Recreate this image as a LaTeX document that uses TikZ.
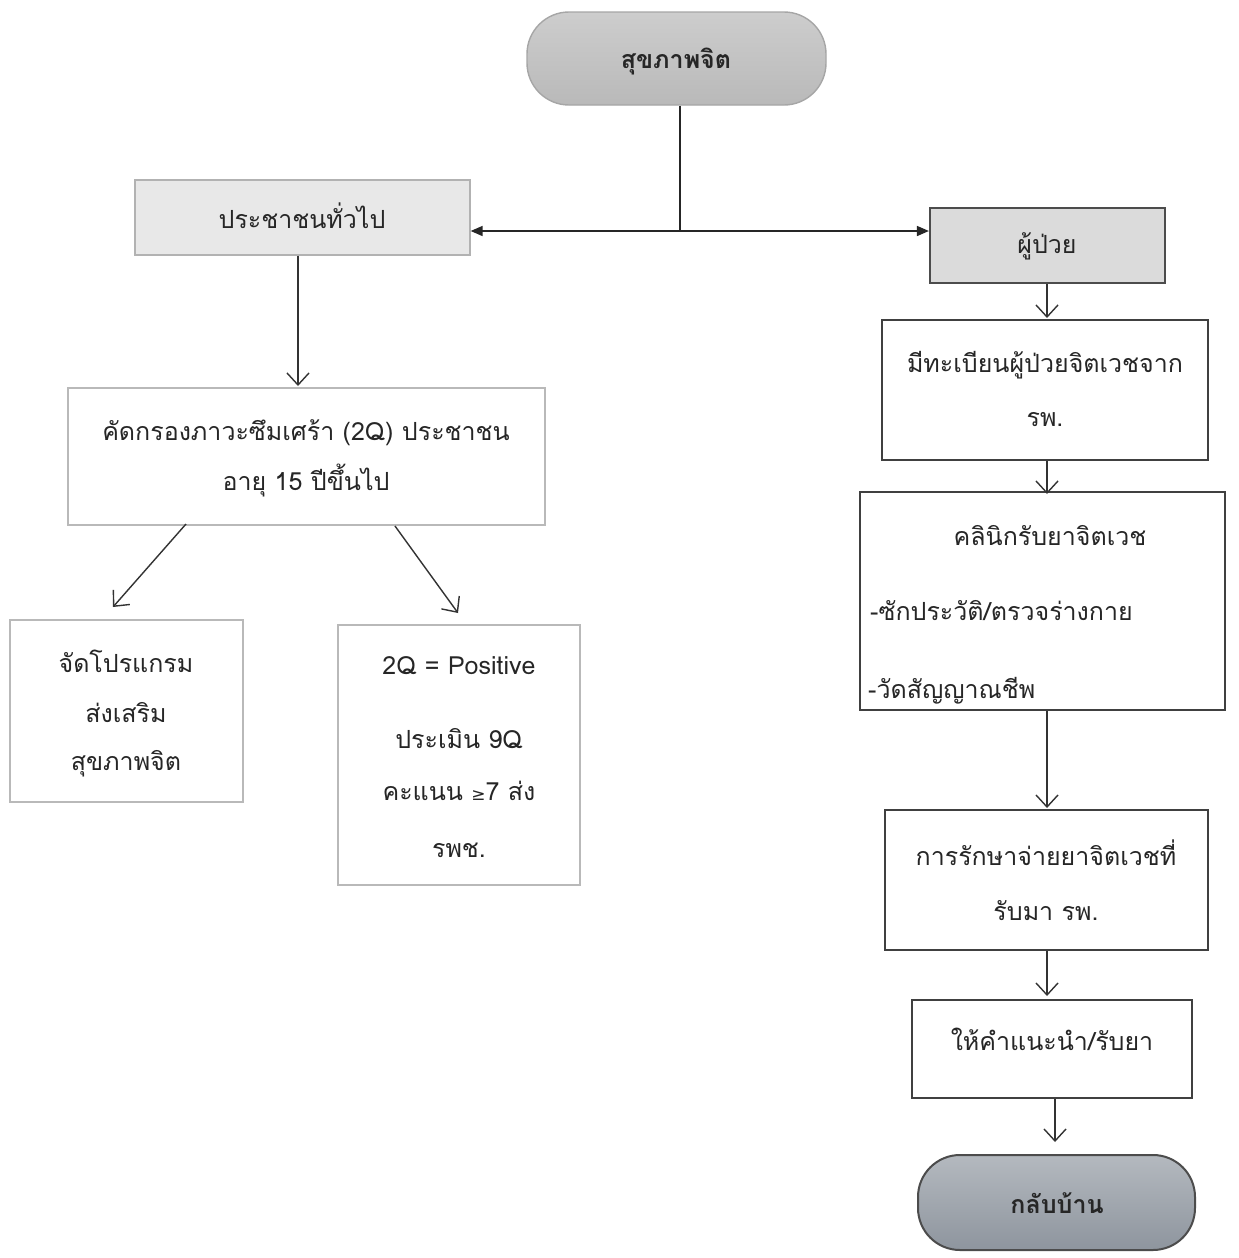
\documentclass[tikz,border=0pt]{standalone}
\usepackage{fontspec}
\newfontfamily\thaifont[Script=Thai]{Loma}
\newfontfamily\symfont{DejaVu Sans}
\usetikzlibrary{arrows.meta}
\definecolor{homeA}{HTML}{B4B9BF}
\definecolor{homeB}{HTML}{8E959E}
\definecolor{topA}{HTML}{CDCDCD}
\definecolor{topB}{HTML}{B9B9B9}
\begin{document}
\begin{tikzpicture}[x=1pt,y=-1pt,
  txt/.style={font=\thaifont\fontsize{25}{30}\selectfont, text=black!85, inner sep=0pt, anchor=base},
  ltxt/.style={txt, anchor=base west},
  btxt/.style={txt, font=\thaifont\bfseries\fontsize{25}{30}\selectfont},
  lbox/.style={draw=gray!55, line width=1.3pt, fill=white, rectangle, inner sep=0pt},
  dbox/.style={draw=black!75, line width=2.2pt, fill=white, rectangle, inner sep=0pt},
  gbox/.style={draw=gray!60, line width=1.3pt, fill=gray!18, rectangle, inner sep=0pt},
  gdbox/.style={draw=black!70, line width=2.2pt, fill=gray!28, rectangle, inner sep=0pt},
  term/.style={rectangle, rounded corners=42pt, inner sep=0pt},
  arr/.style={-{Straight Barb[length=12pt,width=22pt,line width=1.4pt]}, line width=1.4pt, draw=black!80},
  farr/.style={-{Triangle[length=12pt,width=10pt]}, line width=1.6pt, draw=black!85},
  ln/.style={line width=1.5pt, draw=black!85}]
\useasboundingbox (0,0) rectangle (1239,1258);
\fill[white] (0,0) rectangle (1239,1258);

% boxes
\node[term, draw=gray!70, line width=1.4pt, top color=topA, bottom color=topB, minimum width=299pt, minimum height=93pt] (top) at (676.5,58.5) {};
\node[gbox, minimum width=335pt, minimum height=75pt] (pc) at (302.5,217.5) {};
\node[lbox, minimum width=477pt, minimum height=137pt] (screen) at (306.5,456.5) {};
\node[lbox, minimum width=233pt, minimum height=182pt] (prog) at (126.5,711) {};
\node[lbox, minimum width=242pt, minimum height=260pt] (pos) at (459,755) {};
\node[gdbox, minimum width=235pt, minimum height=75pt] (pat) at (1047.5,245.5) {};
\node[dbox, minimum width=326pt, minimum height=140pt] (reg) at (1045,390) {};
\node[dbox, minimum width=365pt, minimum height=218pt] (clinic) at (1042.5,601) {};
\node[dbox, minimum width=323pt, minimum height=140pt] (treat) at (1046.5,880) {};
\node[dbox, minimum width=280pt, minimum height=98pt] (advice) at (1052,1049) {};
\node[term, draw=black!70, line width=2pt, top color=homeA, bottom color=homeB, minimum width=277pt, minimum height=95pt] (home) at (1056.5,1202.5) {};

% texts
\node[btxt] (ttop) at (676,68) {สุขภาพจิต};
\node[txt] (tpc) at (302,228) {ประชาชนทั่วไป};
\node[txt] (tscr1) at (306,440) {คัดกรองภาวะซึมเศร้า (2Q) ประชาชน};
\node[txt] (tscr2) at (306,490) {อายุ 15 ปีขึ้นไป};
\node[txt] (tprog1) at (126,672) {จัดโปรแกรม};
\node[txt] (tprog2) at (126,722) {ส่งเสริม};
\node[txt] (tprog3) at (126,770) {สุขภาพจิต};
\node[txt] (tpos1) at (459,674) {2Q = Positive};
\node[txt] (tpos2) at (459,748) {ประเมิน 9Q};
\node[txt] (tpos3) at (459,800) {คะแนน {\symfont\fontsize{17}{20}\selectfont ≥}7 ส่ง};
\node[txt] (tpos4) at (459,857) {รพช.};
\node[txt] (tpat) at (1047,253) {ผู้ป่วย};
\node[txt] (treg1) at (1045,372) {มีทะเบียนผู้ป่วยจิตเวชจาก};
\node[txt] (treg2) at (1045,426) {รพ.};
\node[txt] (tcl1) at (1050,545) {คลินิกรับยาจิตเวช};
\node[ltxt] (tcl2) at (870,620) {-ซักประวัติ/ตรวจร่างกาย};
\node[ltxt] (tcl3) at (868,698) {-วัดสัญญาณชีพ};
\node[txt] (ttr1) at (1046,865) {การรักษาจ่ายยาจิตเวชที่};
\node[txt] (ttr2) at (1046,920) {รับมา รพ.};
\node[txt] (tadv) at (1052,1050) {ให้คำแนะนำ/รับยา};
\node[btxt] (thome) at (1057,1213) {กลับบ้าน};

% connectors
\coordinate (j) at (680,231);
\draw[ln] (top.south -| j) -- (j);
\draw[farr] (j) -- (j -| pc.east);
\draw[farr] (j) -- (j -| pat.west);
\draw[arr] (pc.south -| 298,0) -- (298,386);
\coordinate (d1s) at (186,524);
\coordinate (d1e) at (113,607);
\coordinate (d2s) at (395,526);
\coordinate (d2e) at (458,613);
\draw[arr] (d1s) -- (d1e);
\draw[arr] (d2s) -- (d2e);
\draw[arr] (pat.south -| 1047,0) -- (1047,318);
\draw[arr] (reg.south -| 1047,0) -- (1047,494);
\draw[arr] (clinic.south -| 1047,0) -- (1047,808);
\draw[arr] (treat.south -| 1047,0) -- (1047,996);
\coordinate (he) at (1055,1142);
\draw[arr] (advice.south -| he) -- (he);
\end{tikzpicture}
\end{document}
